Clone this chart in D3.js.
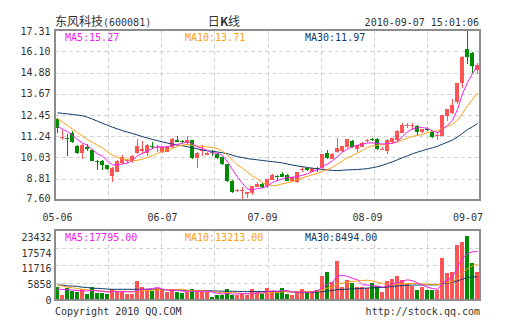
<!DOCTYPE html>
<html>
<head>
<meta charset="utf-8">
<script src="https://cdn.jsdelivr.net/npm/d3@7"></script>
<style>
  html, body { margin: 0; padding: 0; background: #ffffff; }
  svg { display: block; }
  text { font-family: "DejaVu Sans Mono", "Liberation Mono", monospace; font-size: 10px; }
  .cjk { font-family: "Noto Sans CJK SC", sans-serif; font-size: 12px; }
</style>
</head>
<body>
<svg id="chart" width="505" height="330"></svg>
<script>
// Daily bars, 2010-05-06 .. 2010-09-07
const open  = [12.23,11.15,11.15,11.40,10.66,10.28,10.62,10.45,9.84,9.84,
               9.60,8.96,9.21,9.73,9.83,9.80,10.30,10.38,10.29,10.66,
               10.56,10.33,10.37,10.64,11.04,10.97,10.88,11.02,9.98,10.44,
               10.19,10.33,10.22,10.04,9.63,8.69,8.13,8.15,7.93,7.98,
               8.37,8.50,8.40,8.76,8.98,9.11,9.04,8.66,8.60,9.33,
               9.40,9.21,9.45,9.40,10.30,9.95,10.35,10.41,10.62,10.98,
               10.52,10.65,10.98,11.06,11.08,10.49,10.41,10.93,11.00,11.45,
               11.82,11.82,11.82,11.46,11.64,11.49,11.30,11.28,12.41,12.56,
               13.18,14.27,16.25,16.00,15.02];
const high  = [12.29,11.62,11.37,11.55,10.75,10.80,10.78,10.50,9.90,9.88,
               9.62,9.46,9.88,10.18,9.95,10.19,11.09,10.97,10.80,10.90,
               10.76,10.68,10.68,11.15,11.26,11.05,11.25,11.05,10.35,10.75,
               10.36,10.48,10.26,10.06,9.65,8.72,8.22,8.34,8.06,8.42,
               8.64,8.56,8.82,9.10,9.05,9.20,9.06,8.93,9.22,9.48,
               9.45,9.43,9.48,10.25,10.46,10.27,11.15,10.70,11.08,11.00,
               10.76,10.92,11.08,11.14,11.12,10.60,11.06,11.14,11.58,12.01,
               11.97,12.01,11.86,11.65,11.75,11.52,11.47,12.46,12.80,13.36,
               14.30,15.80,17.31,16.05,15.42];
const low   = [11.40,11.04,10.11,10.85,10.22,9.97,10.38,9.80,9.29,9.30,
               9.30,8.64,9.18,9.66,9.70,9.71,10.25,10.25,10.10,10.52,
               10.32,10.30,10.35,10.58,10.90,10.85,10.82,9.95,9.40,10.10,
               10.15,10.12,9.95,9.60,8.64,7.99,8.07,7.60,7.72,7.90,
               8.33,8.28,8.28,8.72,8.68,8.90,8.66,8.62,8.57,9.21,
               9.26,9.18,9.20,9.36,9.95,9.92,10.30,10.33,10.58,10.58,
               10.32,10.60,10.88,10.95,10.45,10.45,10.22,10.85,10.96,11.42,
               11.70,11.62,11.32,11.42,11.52,11.15,11.04,11.25,12.13,12.52,
               13.08,13.97,15.39,14.88,14.78];
const close = [11.70,11.20,11.10,10.93,10.30,10.75,10.50,9.85,9.80,9.62,
               9.35,9.42,9.85,10.07,9.87,10.12,10.71,10.54,10.75,10.62,
               10.62,10.60,10.64,11.10,10.93,10.93,11.02,10.00,10.31,10.48,
               10.31,10.28,10.00,9.63,8.68,8.07,8.17,8.19,8.03,8.39,
               8.50,8.32,8.78,9.04,8.95,8.94,8.70,8.90,9.18,9.37,
               9.30,9.40,9.35,10.23,9.99,10.24,10.58,10.66,11.06,10.62,
               10.72,10.88,11.05,11.02,10.49,10.53,11.04,11.12,11.56,11.87,
               11.88,11.86,11.46,11.63,11.60,11.18,11.34,12.44,12.77,13.04,
               14.27,15.78,15.74,15.23,15.32];
const volume = [4676,1841,4308,3424,3056,3940,2209,4676,2688,2688,
                2209,3940,3314,3314,2209,2209,6996,4676,3940,3314,
                4308,3682,3056,3940,3056,2467,3056,3940,3314,3056,
                3056,1215,1841,1841,4050,1841,1841,2099,1841,3940,
                3056,2209,4308,3424,3056,4308,2209,1841,3056,3940,
                3056,3056,3682,8837,10420,6738,14500,4676,7364,6218,
                4700,4800,4600,6149,5200,3056,6996,7732,9000,7500,
                6000,5200,3682,4897,3682,3700,3750,15400,10100,10205,
                20250,21200,23432,13700,10393];

// Averages for the opening days, whose windows reach back before May 6
const ma5Lead  = [11.82,11.65,11.50,11.30];
const ma10Lead = [12.25,12.05,11.85,11.65,11.45,11.25,11.05,10.90,10.72];
const ma30Lead = [12.58,12.55,12.52,12.49,12.45,12.41,12.33,12.22,12.10,11.98,
                  11.87,11.76,11.66,11.56,11.48,11.40,11.31,11.22,11.14,11.06,
                  10.99,10.92,10.85,10.79,10.74,10.70,10.64,10.58,10.52];
const vma5Lead  = [4000,3900,3800,3650];
const vma10Lead = [5500,5100,4700,4500,4200,3900,3700,3550,3450];
const vma30Lead = [5500,5500,5150,5150,5000,4700,4600,4300,4300,4200,
                   4000,3950,3940,3940,3940,3940,3940,3940,3940,3940,
                   3900,3800,3700,3700,3650,3600,3550,3500,3480];

// Axis labels
const xTickIndex  = [0,21,41,62,84];
const xTickLabels = ["05-06","06-07","07-09","08-09","09-07"];
const priceTicks  = [17.31,16.10,14.88,13.67,12.45,11.24,10.03,8.81,7.60];
const volTicks    = [23432,17574,11716,5858,0];

const COLORS = {
  up: "#ff5454", down: "#008c00",
  ma5: "#f01ef0", ma10: "#ffa010", ma30: "#0d3a6b",
  grid: "#d2d2d2", frame: "#8c8c8c", text: "#333333"
};

const svg = d3.select("#chart");
const L = 55, R = 480, PT = 30, PB = 200, VT = 230, VB = 300;
const n = close.length;

const x = d3.scaleBand().domain(d3.range(n)).range([L, R])
  .paddingInner(0.2).paddingOuter(0.1);
const bx = i => Math.floor(x(i));
const bw = Math.round(x.bandwidth());
const cx = i => bx(i) + 2.5;

const y = d3.scaleLinear().domain([d3.min(low), d3.max(high)]).range([PB, PT]);
const vMax = d3.max(volume);
const yv = d3.scaleLinear().domain([0, vMax * 1.1]).range([VB, VT]);
const yvTick = d3.scaleLinear().domain([0, vMax]).range([VB, VT]);
const yvLabel = d3.scaleLinear().domain([0, vMax]).range([VB + 0.6, VT + 7]);

function movingAvg(values, len, lead) {
  return values.map((v, i) => i < len - 1 ? lead[i] : d3.mean(values.slice(i - len + 1, i + 1)));
}
const ma5 = movingAvg(close, 5, ma5Lead);
const ma10 = movingAvg(close, 10, ma10Lead);
const ma30 = movingAvg(close, 30, ma30Lead);
const vma5 = movingAvg(volume, 5, vma5Lead);
const vma10 = movingAvg(volume, 10, vma10Lead);
const vma30 = movingAvg(volume, 30, vma30Lead);

// ---- grid ----
const grid = svg.append("g").attr("stroke", COLORS.grid).attr("stroke-dasharray", "4,3")
  .attr("shape-rendering", "crispEdges");
const colX = d3.range(1, 8).map(k => Math.round(L + k * (R - L) / 8) + 0.5);
[[PT, PB], [VT, VB]].forEach(([t, b]) => {
  grid.selectAll(null).data(colX).join("line")
    .attr("x1", d => d).attr("x2", d => d).attr("y1", t).attr("y2", b);
});
grid.selectAll(null).data(priceTicks.slice(1, -1)).join("line")
  .attr("x1", L).attr("x2", R)
  .attr("y1", d => Math.round(y(d)) + 0.5).attr("y2", d => Math.round(y(d)) + 0.5);
grid.selectAll(null).data(volTicks.slice(1, -1)).join("line")
  .attr("x1", L).attr("x2", R)
  .attr("y1", d => Math.round(yvTick(d)) + 0.5).attr("y2", d => Math.round(yvTick(d)) + 0.5);

// ---- candles ----
const idx = d3.range(n);
const isUp = i => close[i] >= open[i];
const candles = svg.append("g").attr("shape-rendering", "crispEdges");
candles.selectAll("line").data(idx).join("line")
  .attr("x1", cx).attr("x2", cx)
  .attr("y1", i => y(high[i])).attr("y2", i => y(low[i]))
  .attr("stroke", i => isUp(i) ? COLORS.up : COLORS.down);
candles.selectAll("rect").data(idx).join("rect")
  .attr("x", bx).attr("width", bw)
  .attr("y", i => y(Math.max(open[i], close[i])))
  .attr("height", i => Math.max(1, Math.abs(y(open[i]) - y(close[i]))))
  .attr("fill", i => isUp(i) ? COLORS.up : COLORS.down);

// ---- volume bars ----
svg.append("g").attr("shape-rendering", "crispEdges")
  .selectAll("rect").data(idx).join("rect")
  .attr("x", bx).attr("width", bw)
  .attr("y", i => yv(volume[i]))
  .attr("height", i => VB - yv(volume[i]))
  .attr("fill", i => isUp(i) ? COLORS.up : COLORS.down);

// ---- moving average lines ----
const priceLine = d3.line().x((d, i) => cx(i)).y(d => y(d));
const volLine = d3.line().x((d, i) => cx(i)).y(d => yv(d));
const maG = svg.append("g").attr("fill", "none").attr("stroke-width", 1);
[[ma30, COLORS.ma30], [ma10, COLORS.ma10], [ma5, COLORS.ma5]].forEach(([s, c]) =>
  maG.append("path").attr("d", priceLine(s)).attr("stroke", c));
[[vma30, COLORS.ma30], [vma10, COLORS.ma10], [vma5, COLORS.ma5]].forEach(([s, c]) =>
  maG.append("path").attr("d", volLine(s)).attr("stroke", c));

// ---- frames ----
svg.append("g").attr("fill", "none").attr("stroke", COLORS.frame).attr("stroke-width", 2)
  .selectAll("rect").data([[PT, PB], [VT, VB]]).join("rect")
  .attr("x", L).attr("y", d => d[0]).attr("width", R - L).attr("height", d => d[1] - d[0]);

// ---- axis labels ----
const txt = svg.append("g").attr("fill", COLORS.text);
txt.selectAll(null).data(priceTicks).join("text")
  .attr("x", 50.5).attr("text-anchor", "end")
  .attr("y", (d, k) => y(d) + (k === 0 ? 5.3 : k === priceTicks.length - 1 ? 1.6 : 3.6))
  .text(d => d.toFixed(2));
txt.selectAll(null).data(volTicks).join("text")
  .attr("x", 51.5).attr("text-anchor", "end")
  .attr("y", d => yvLabel(d) + 3.6)
  .text(d => d);
txt.selectAll(null).data(xTickIndex).join("text")
  .attr("text-anchor", "middle")
  .attr("x", i => Math.min(cx(i), 483 - 15))
  .attr("y", 220.7)
  .text((d, k) => xTickLabels[k]);

// ---- title row ----
const title = svg.append("text").attr("x", L).attr("y", 26).attr("fill", COLORS.text);
title.append("tspan").attr("class", "cjk").text("东风科技");
title.append("tspan").text("(600081)");
const kLine = svg.append("text").attr("x", 224).attr("y", 26).attr("text-anchor", "middle")
  .attr("class", "cjk").attr("fill", COLORS.text);
kLine.append("tspan").text("日");
kLine.append("tspan").attr("font-weight", "bold").text("K");
kLine.append("tspan").text("线");
svg.append("text").attr("x", 479).attr("y", 26).attr("text-anchor", "end")
  .attr("fill", COLORS.text).text("2010-09-07 15:01:06");

// ---- legends ----
const legendX = [65, 185, 305];
const legendCol = [COLORS.ma5, COLORS.ma10, COLORS.ma30];
const priceLeg = [["MA5", ma5], ["MA10", ma10], ["MA30", ma30]];
const volLeg = [["MA5", vma5], ["MA10", vma10], ["MA30", vma30]];
priceLeg.forEach(([name, s], k) =>
  svg.append("text").attr("x", legendX[k]).attr("y", 40.5).attr("fill", legendCol[k])
    .text(`${name}:${s[n - 1].toFixed(2)}`));
volLeg.forEach(([name, s], k) =>
  svg.append("text").attr("x", legendX[k]).attr("y", 240.5).attr("fill", legendCol[k])
    .text(`${name}:${s[n - 1].toFixed(2)}`));

// ---- footer ----
svg.append("text").attr("x", L).attr("y", 314.5).attr("fill", COLORS.text)
  .text("Copyright 2010 QQ.COM");
svg.append("text").attr("x", 480).attr("y", 314.5).attr("text-anchor", "end")
  .attr("fill", COLORS.text).text("http://stock.qq.com");
</script>
</body>
</html>
